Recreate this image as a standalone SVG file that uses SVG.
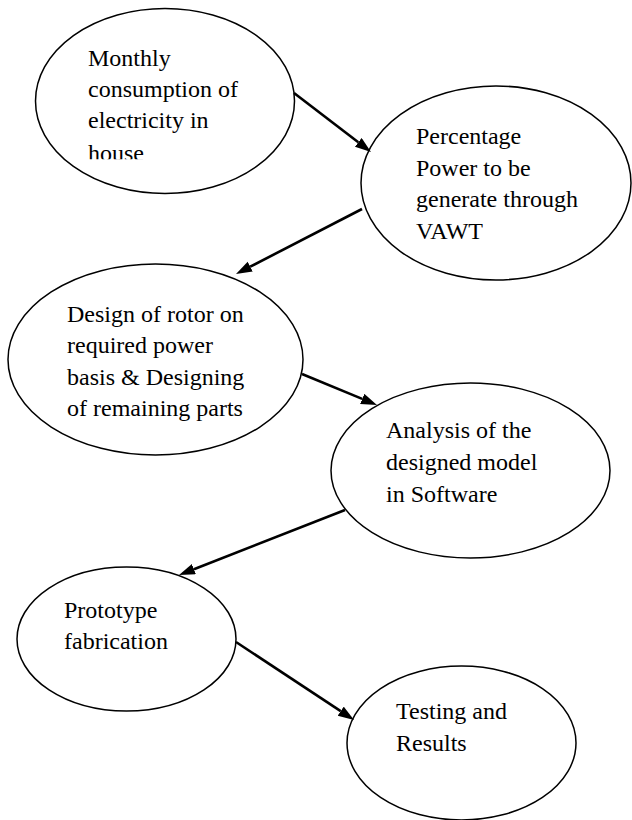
<svg xmlns="http://www.w3.org/2000/svg" width="632" height="820" viewBox="0 0 632 820">
<style>
.node ellipse{fill:#fff;stroke:#000;stroke-width:1.5}
.node text{font-family:"Liberation Serif","Times New Roman",serif;font-size:24px;fill:#000}
.conn line{stroke:#000;stroke-width:2.6}
</style>
<defs>
<marker id="arr" markerUnits="userSpaceOnUse" markerWidth="17" markerHeight="12" refX="0" refY="5.5" orient="auto">
<path d="M0,0 L16,5.5 L0,11 z" fill="#000"/>
</marker>
<clipPath id="clipHouse"><rect x="0" y="0" width="632" height="159.3"/></clipPath>
</defs>
<rect width="632" height="820" fill="#fff"/>
<g id="n1" class="node">
<ellipse cx="165" cy="101" rx="129.5" ry="92.5"/>
<text x="88" y="66">Monthly</text>
<text x="88" y="97">consumption of</text>
<text x="88" y="128">electricity in</text>
<text x="88" y="161" clip-path="url(#clipHouse)">house</text>
</g>
<g id="n2" class="node">
<ellipse cx="496" cy="183" rx="135" ry="97"/>
<text x="416" y="144">Percentage</text>
<text x="416" y="176">Power to be</text>
<text x="416" y="207">generate through</text>
<text x="416" y="239">VAWT</text>
</g>
<g id="n3" class="node">
<ellipse cx="155.5" cy="359.5" rx="147.5" ry="95.5"/>
<text x="67" y="322">Design of rotor on</text>
<text x="67" y="353">required power</text>
<text x="67" y="385">basis &amp; Designing</text>
<text x="67" y="416">of remaining parts</text>
</g>
<g id="n4" class="node">
<ellipse cx="470.5" cy="470.5" rx="139.5" ry="87.5"/>
<text x="386" y="438">Analysis of the</text>
<text x="386" y="470">designed model</text>
<text x="386" y="502">in Software</text>
</g>
<g id="n5" class="node">
<ellipse cx="126.5" cy="639" rx="109.5" ry="72"/>
<text x="64" y="618">Prototype</text>
<text x="64" y="649">fabrication</text>
</g>
<g id="n6" class="node">
<ellipse cx="461.5" cy="743" rx="114.5" ry="77"/>
<text x="396" y="719">Testing and</text>
<text x="396" y="751">Results</text>
</g>
<g id="connectors" class="conn">
<line x1="294" y1="93" x2="358.3" y2="142.3" marker-end="url(#arr)"/>
<line x1="362" y1="209" x2="250.2" y2="266.7" marker-end="url(#arr)"/>
<line x1="302" y1="374" x2="362.2" y2="398.9" marker-end="url(#arr)"/>
<line x1="345" y1="510" x2="193.9" y2="569.2" marker-end="url(#arr)"/>
<line x1="236" y1="642" x2="340.7" y2="711.2" marker-end="url(#arr)"/>
</g>
</svg>
